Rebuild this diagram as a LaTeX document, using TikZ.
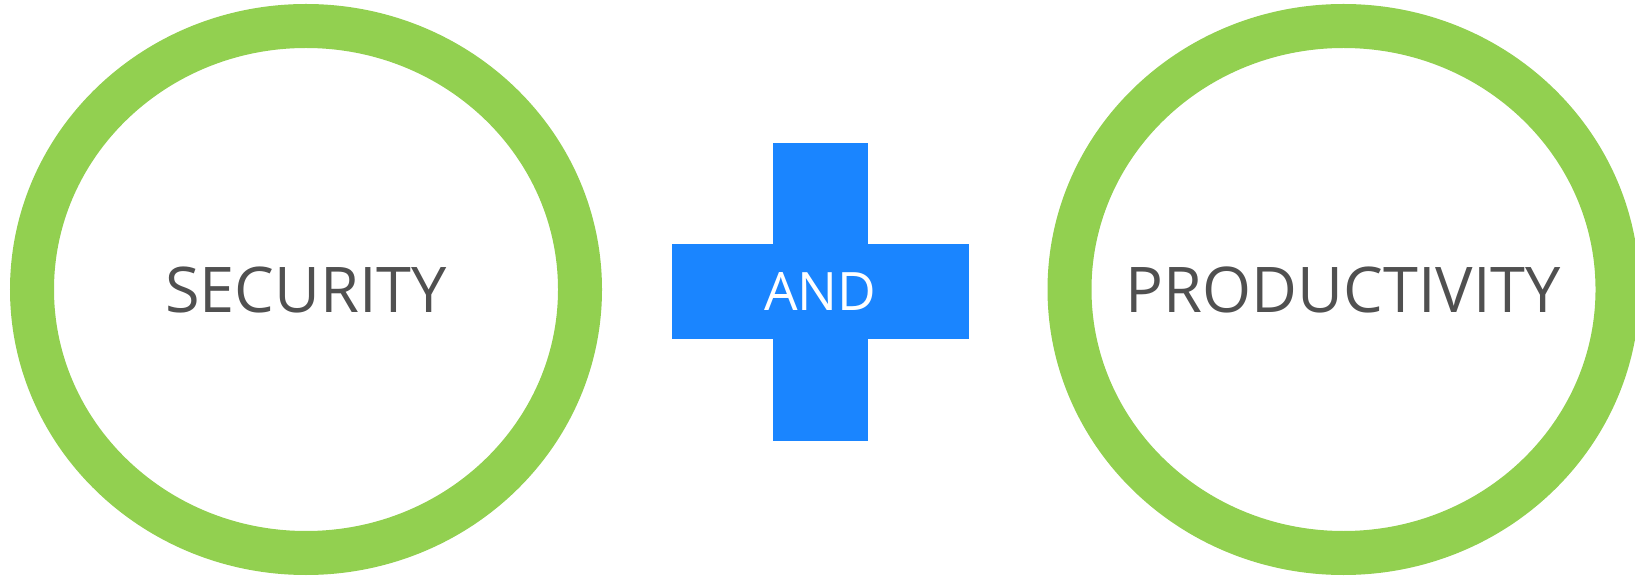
\documentclass[tikz,border=0pt]{standalone}
\usepackage{fontspec}
\setmainfont{Open Sans}
\usetikzlibrary{shapes.geometric,positioning}
\definecolor{ringgreen}{HTML}{92D050}
\definecolor{plusblue}{HTML}{1A85FF}
\definecolor{labelgray}{HTML}{505050}

\begin{document}
\begin{tikzpicture}[x=1pt, y=1pt,
    ring/.style={ellipse, draw=ringgreen, line width=44pt, minimum width=548pt,
                 minimum height=527pt, inner sep=0pt},
    lbl/.style={text=labelgray, font=\fontsize{63}{76}\selectfont, inner sep=0pt},
    bar/.style={fill=plusblue, draw=none, inner sep=0pt}]
    \useasboundingbox (0,0) rectangle (1635,576);
    \clip (0,0) rectangle (1635,576);
    \node[ring] (sec) at (306,286.5) {};
    \node[ring] (prod) at (1343.5,286.5) {};
    \node[lbl] (seclbl) at (sec.center) {SECURITY};
    \node[lbl] (prodlbl) at (prod.center) {PRODUCTIVITY};
    \node[bar, minimum width=95pt, minimum height=298pt] (vbar) at (820.5,284) {};
    \node[bar, minimum width=297pt, minimum height=95pt, text=white,
          font=\fontsize{53}{64}\selectfont] (hbar) at (vbar.center) {AND};
  \end{tikzpicture}
\end{document}
